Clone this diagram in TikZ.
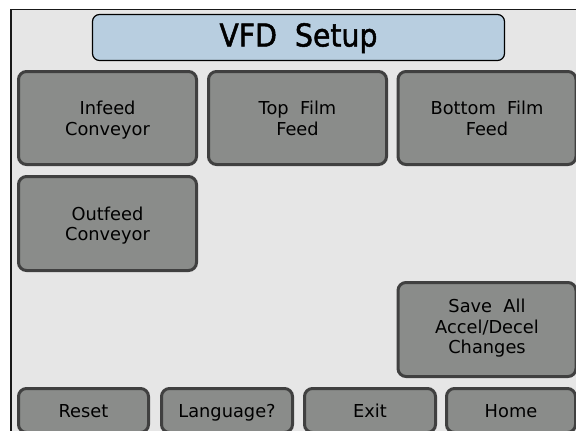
\documentclass[tikz,border=0pt]{standalone}
\usepackage{fontspec}
\setmainfont{DejaVu Sans}
\newfontfamily\titlefont[FakeStretch=0.9,FakeBold=1.5]{DejaVu Sans}
\definecolor{panelbg}{HTML}{E6E6E6}
\definecolor{btnfill}{HTML}{8A8C8A}
\definecolor{btnedge}{HTML}{404040}
\definecolor{titlefill}{HTML}{B8CEE0}
\tikzset{
  btn/.style={draw=btnedge, fill=btnfill, line width=3pt, rounded corners=8pt,
    align=center, inner sep=0pt, minimum width=178pt, text depth=0pt,
    font=\fontsize{17.8}{20.5}\selectfont, text=black},
  bbtn/.style={btn, minimum height=44pt, text height=13pt},
  titlebox/.style={draw=black, fill=titlefill, line width=1.2pt, rounded corners=7pt,
    minimum width=412pt, minimum height=46pt, inner sep=0pt, text depth=5pt, text height=23pt,
    font=\titlefont\fontsize{31.5}{34}\selectfont}
}
\begin{document}
\begin{tikzpicture}[x=1pt,y=-1pt]
\useasboundingbox (0,0) rectangle (576,431);
\clip (0,0) rectangle (576,431);
\fill[white] (0,0) rectangle (576,431);
\fill[panelbg] (11,9) rectangle (576,431);
\draw[black!90, line width=1pt] (10,9.5) -- (576,9.5);
\draw[black!90, line width=2pt] (11,9) -- (11,431);
\node[titlebox] (title) at (298.5,37.5) {VFD\ \ Setup};
\node[btn, minimum height=93pt] (infeed) at (107.5,118) {Infeed\\Conveyor};
\node[btn, minimum height=93pt] (topfilm) at (297.5,118) {Top\ \ Film\\Feed};
\node[btn, minimum height=93pt] (botfilm) at (487,118) {Bottom\ \ Film\\Feed};
\node[btn, minimum height=94pt] (outfeed) at (107.5,223.5) {Outfeed\\Conveyor};
\node[btn, minimum height=94pt, text depth=6pt] (saveall) at (487,329.5) {Save\ \ All\\Accel/Decel\\Changes};
\node[bbtn, minimum width=130pt] (reset) at (83.5,410.5) {Reset};
\node[bbtn, minimum width=131pt] (lang) at (227,410.5) {Language?};
\node[bbtn, minimum width=131pt] (exit) at (370,410.5) {Exit};
\node[bbtn, minimum width=129pt] (home) at (511,410.5) {Home};
\end{tikzpicture}
\end{document}
